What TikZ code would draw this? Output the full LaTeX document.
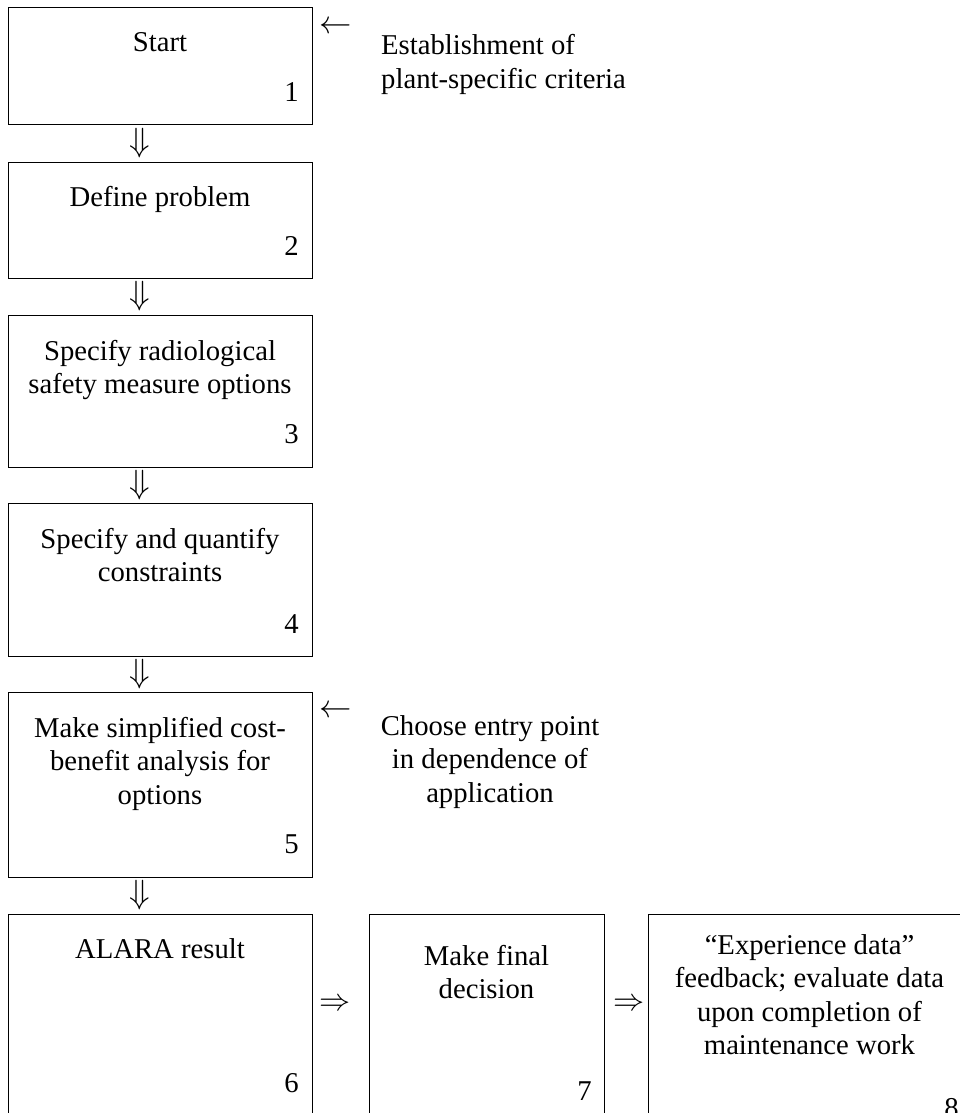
\documentclass[tikz,border=0pt]{standalone}
\usepackage{fontspec}
\setmainfont{Liberation Serif}
\usetikzlibrary{calc}
\newcommand{\cenlines}[1]{\begin{tabular}[t]{@{}c@{}}#1\end{tabular}}
\newcommand{\lftlines}[1]{\begin{tabular}[t]{@{}l@{}}#1\end{tabular}}
\newcommand{\bigdown}{\scalebox{1.35}{$\Downarrow$}}
\newcommand{\bigright}{\scalebox{1.25}{$\Rightarrow$}}
\newcommand{\bigleft}{\scalebox{1.3}{$\leftarrow$}}
\tikzset{
  stepbox/.style={draw=black, line width=1pt, inner sep=0pt, outer sep=0pt, anchor=north west},
  txt/.style={inner sep=0pt, font=\fontsize{28.7}{33.5}\selectfont, anchor=base},
  num/.style={inner sep=0pt, font=\fontsize{28.7}{33.5}\selectfont, anchor=base east},
  glyph/.style={inner sep=0pt, font=\fontsize{24.88}{30}\selectfont},
}
\begin{document}
\begin{tikzpicture}[x=1pt,y=-1pt]
\useasboundingbox (0,0) rectangle (960,1113);
\clip (0,0) rectangle (960,1113);
% boxes
\node[stepbox, minimum width=304pt, minimum height=117pt] (b1) at (8,8) {};
\node[stepbox, minimum width=304pt, minimum height=116pt] (b2) at (8,162) {};
\node[stepbox, minimum width=304pt, minimum height=152pt] (b3) at (8,315) {};
\node[stepbox, minimum width=304pt, minimum height=153pt] (b4) at (8,503) {};
\node[stepbox, minimum width=304pt, minimum height=185pt] (b5) at (8,692) {};
\node[stepbox, minimum width=304pt, minimum height=226pt] (b6) at (8,914) {};
\node[stepbox, minimum width=235pt, minimum height=226pt] (b7) at (369,914) {};
\node[stepbox, minimum width=323pt, minimum height=226pt] (b8) at (648,914) {};
% texts
\node[txt] (t1) at ($(b1.north)+(0,44)$) {\cenlines{Start}};
\node[num] (n1) at ($(b1.south east)+(-13,-23)$) {1};
\node[txt] (t2) at ($(b2.north)+(0,44)$) {\cenlines{Define problem}};
\node[num] (n2) at ($(b2.south east)+(-13,-23)$) {2};
\node[txt] (t3) at ($(b3.north)+(0,45)$) {\cenlines{Specify radiological\\safety measure options}};
\node[num] (n3) at ($(b3.south east)+(-13,-24)$) {3};
\node[txt] (t4) at ($(b4.north)+(0,45)$) {\cenlines{Specify and quantify\\constraints}};
\node[num] (n4) at ($(b4.south east)+(-13,-23)$) {4};
\node[txt] (t5) at ($(b5.north)+(0,45)$) {\cenlines{Make simplified cost-\\benefit analysis for\\options}};
\node[num] (n5) at ($(b5.south east)+(-13,-24)$) {5};
\node[txt] (t6) at ($(b6.north)+(0,44)$) {\cenlines{ALARA result}};
\node[num] (n6) at ($(b6.north east)+(-13,178)$) {6};
\node[txt] (t7) at ($(b7.north)+(0,51)$) {\cenlines{Make final\\decision}};
\node[num] (n7) at ($(b7.north east)+(-12,186)$) {7};
\node[txt] (t8) at ($(b8.north)+(0,40)$) {\cenlines{``Experience data''\\feedback; evaluate data\\upon completion of\\maintenance work}};
\node[num] (n8) at ($(b8.north east)+(-12,203)$) {8};
% side notes
\node[txt, anchor=base west] (s1) at (381,55) {\lftlines{Establishment of\\plant-specific criteria}};
\node[txt] (s2) at (490,735) {\cenlines{Choose entry point\\in dependence of\\application}};
% arrows
\node[glyph] (a12) at ($(b1.south)!0.5!(b2.north)+(-20,0)$) {\bigdown};
\node[glyph] (a23) at ($(b2.south)!0.5!(b3.north)+(-20,0)$) {\bigdown};
\node[glyph] (a34) at ($(b3.south)!0.5!(b4.north)+(-20,0)$) {\bigdown};
\node[glyph] (a45) at ($(b4.south)!0.5!(b5.north)+(-20,0)$) {\bigdown};
\node[glyph] (a56) at ($(b5.south)!0.5!(b6.north)+(-20,0)$) {\bigdown};
\node[glyph] (a67) at ($(b6.north east)!0.5!(b7.north west)+(-5,91)$) {\bigright};
\node[glyph] (a78) at ($(b7.north east)!0.5!(b8.north west)+(3,91)$) {\bigright};
\node[glyph] (l1) at ($(b1.north east)+(24,20)$) {\bigleft};
\node[glyph] (l5) at ($(b5.north east)+(24,20)$) {\bigleft};
\end{tikzpicture}
\end{document}
